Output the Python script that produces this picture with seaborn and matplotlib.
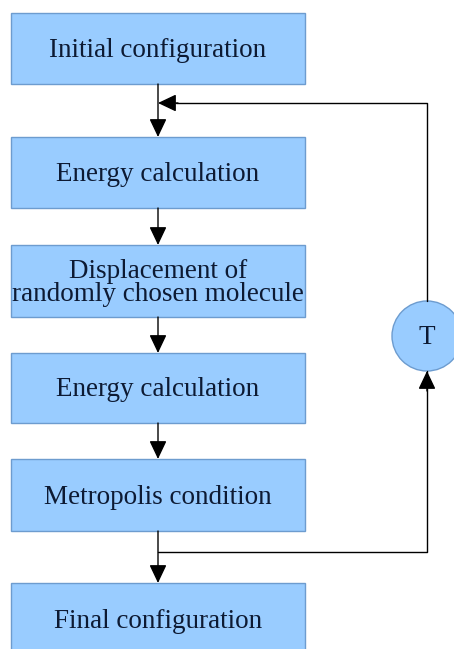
#flowchart of the Metropolis Monte Carlo loop
import matplotlib
matplotlib.use('Agg')
import matplotlib.pyplot as plt
from matplotlib.patches import Rectangle, Circle
import seaborn as sns

#box labels and their top / bottom edges (pixels from the top)
labels = ['Initial configuration', 'Energy calculation',
          'Displacement of\nrandomly chosen molecule', 'Energy calculation',
          'Metropolis condition', 'Final configuration']
box_top = [13, 137, 245, 353, 459, 583]
box_bottom = [84, 208, 317, 423, 531, 655]
box_left, box_right = 11, 305

#feedback loop through the temperature node
loop_label = 'T'
loop_x = 427
loop_y = 336
loop_r = 35
loop_in_y = 552    # branch leaving Metropolis condition
loop_out_y = 103   # branch re-entering after Initial configuration

sns.set_theme(style='white')
plt.rcParams['font.family'] = ['Liberation Serif', 'DejaVu Serif']

fill = '#99ccff'
edge = '#6d9ccf'
txt = '#0d1a33'

fig = plt.figure(figsize=(4.54, 6.49), dpi=100)
ax = fig.add_axes([0, 0, 1, 1])
ax.set_xlim(0, 454)
ax.set_ylim(649, 0)
ax.axis('off')

cx = (box_left + box_right) / 2

def arrow(x0, y0, x1, y1):
    ax.annotate('', xy=(x1, y1), xytext=(x0, y0),
                arrowprops=dict(arrowstyle='-|>,head_length=0.8,head_width=0.38',
                                mutation_scale=14, color='black', lw=1,
                                shrinkA=0, shrinkB=0))

for lab, t, b in zip(labels, box_top, box_bottom):
    ax.add_patch(Rectangle((box_left, t), box_right - box_left, b - t,
                           facecolor=fill, edgecolor=edge, lw=1))
    ax.text(cx, (t + b) / 2 + 2, lab, ha='center', va='center',
            fontsize=19.5, color=txt, linespacing=0.9)

#straight arrows between consecutive boxes
for i in range(len(labels) - 1):
    arrow(cx, box_bottom[i], cx, box_top[i + 1])

#loop: Metropolis -> T -> back to top
ax.plot([cx, loop_x, loop_x], [loop_in_y, loop_in_y, loop_y + loop_r],
        color='black', lw=1)
arrow(loop_x, loop_y + loop_r + 20, loop_x, loop_y + loop_r)
ax.plot([loop_x, loop_x, cx + 18], [loop_y - loop_r, loop_out_y, loop_out_y],
        color='black', lw=1)
arrow(cx + 20, loop_out_y, cx, loop_out_y)

ax.add_patch(Circle((loop_x, loop_y), loop_r, facecolor=fill,
                    edgecolor=edge, lw=1))
ax.text(loop_x, loop_y + 1, loop_label, ha='center', va='center',
        fontsize=19.5, color=txt)

fig.savefig('out.png', dpi=100)
